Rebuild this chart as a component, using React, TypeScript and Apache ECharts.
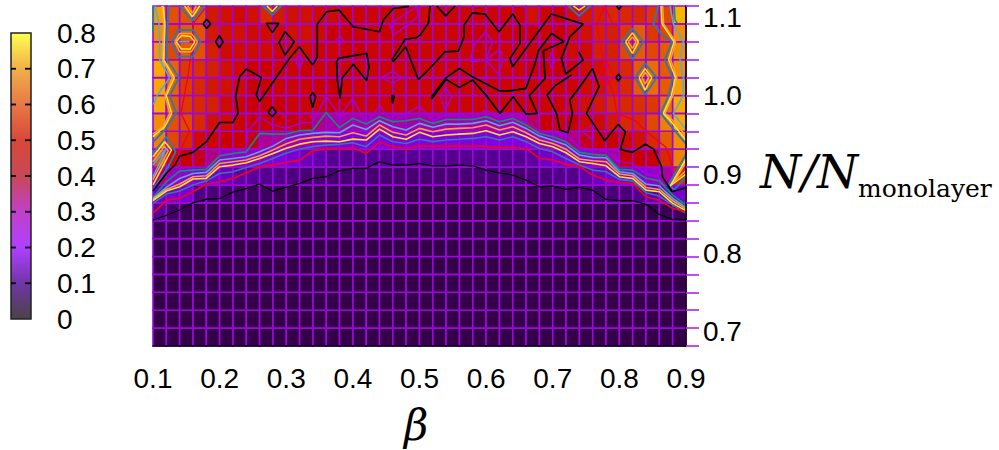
import React, { useEffect, useRef } from "react";
import * as echarts from "echarts";

// ---------- axes ----------
const betaMin = 0.1;
const betaMax = 0.9;
const betaStep = 0.02;
const densityMin = 0.682;
const densityMax = 1.114;
const rowCount = 19;
const densityStep = (densityMax - densityMin) / rowCount;
const densityTicks = [0.7, 0.8, 0.9, 1.0, 1.1];
const barTicks = [0.1, 0.2, 0.3, 0.4, 0.5, 0.6, 0.7];

// ---------- colours ----------
const heatStops: [number, string][] = [
  [0, "#2c0040"], [0.02, "#340048"], [0.06, "#460070"], [0.11, "#550090"], [0.22, "#8000e0"], [0.3, "#9800c8"],
  [0.36, "#a800a8"], [0.4, "#b80060"], [0.44, "#c80004"], [0.47, "#d01000"], [0.5, "#d82800"],
  [0.54, "#e04800"], [0.6, "#f08000"], [0.66, "#f8a800"], [0.8, "#ffff00"],
];
const barStops: [number, string][] = [
  [0, "#4a4444"], [0.1, "#7035a8"], [0.2, "#b040ff"], [0.3, "#c040c8"], [0.4, "#c84858"],
  [0.5, "#d84838"], [0.6, "#e87848"], [0.7, "#f0b048"], [0.8, "#ffff50"],
];

// ---------- cell values, bottom row first, 40 columns each ----------
const row00 = [.02,.02,.02,.02,.02,.02,.02,.02,.02,.02,.02,.02,.02,.02,.02,.02,.02,.02,.02,.02,.02,.02,.02,.02,.02,.02,.02,.02,.02,.02,.02,.02,.02,.02,.02,.02,.02,.02,.02,.02];
const row01 = [.02,.02,.02,.02,.02,.02,.02,.02,.02,.02,.02,.02,.02,.02,.02,.02,.02,.02,.02,.02,.02,.02,.02,.02,.02,.02,.02,.02,.02,.02,.02,.02,.02,.02,.02,.02,.02,.02,.02,.02];
const row02 = [.02,.02,.02,.02,.02,.02,.02,.02,.02,.02,.02,.02,.02,.02,.02,.02,.02,.02,.02,.02,.02,.02,.02,.02,.02,.02,.02,.02,.02,.02,.02,.02,.02,.02,.02,.02,.02,.02,.02,.02];
const row03 = [.02,.02,.02,.02,.02,.02,.02,.02,.02,.02,.02,.02,.02,.02,.02,.02,.02,.02,.02,.02,.02,.02,.02,.02,.02,.02,.02,.02,.02,.02,.02,.02,.02,.02,.02,.02,.02,.02,.02,.02];
const row04 = [.02,.02,.02,.02,.02,.02,.02,.02,.02,.02,.02,.02,.02,.02,.02,.02,.02,.02,.02,.02,.02,.02,.02,.02,.02,.02,.02,.02,.02,.02,.02,.02,.02,.02,.02,.02,.02,.02,.02,.02];
const row05 = [.02,.02,.02,.02,.02,.02,.02,.02,.02,.02,.02,.02,.02,.02,.02,.02,.02,.02,.02,.02,.02,.02,.02,.02,.02,.02,.02,.02,.02,.02,.02,.02,.02,.02,.02,.02,.02,.02,.02,.02];
const row06 = [.03,.02,.02,.02,.02,.02,.02,.02,.02,.02,.02,.02,.02,.02,.02,.02,.02,.02,.02,.02,.02,.02,.02,.02,.02,.02,.02,.02,.02,.02,.02,.02,.02,.02,.02,.02,.02,.02,.02,.02];
const row07 = [.12,.05,.03,.02,.02,.02,.02,.02,.02,.02,.02,.02,.02,.02,.02,.02,.02,.02,.02,.02,.02,.02,.02,.02,.02,.02,.02,.02,.02,.02,.02,.02,.02,.02,.02,.02,.02,.02,.03,.04];
const row08 = [.18,.2,.2,.08,.07,.06,.05,.04,.04,.03,.03,.03,.03,.03,.03,.03,.03,.03,.03,.03,.03,.03,.03,.03,.03,.03,.03,.03,.03,.04,.05,.05,.06,.06,.07,.07,.1,.14,.17,.2];
const row09 = [.38,.3,.28,.22,.2,.17,.13,.12,.11,.1,.08,.06,.06,.06,.06,.06,.06,.06,.06,.06,.06,.06,.06,.06,.06,.06,.06,.06,.07,.08,.1,.1,.14,.17,.2,.22,.25,.3,.36,.5];
const row10 = [.55,.45,.44,.43,.38,.3,.28,.28,.25,.22,.2,.17,.14,.11,.11,.11,.11,.11,.11,.11,.11,.11,.11,.11,.11,.11,.11,.11,.13,.18,.2,.22,.26,.34,.36,.44,.44,.44,.5,.6];
const row11 = [.6,.54,.5,.46,.45,.44,.44,.43,.37,.37,.34,.32,.27,.22,.22,.22,.22,.22,.22,.22,.22,.22,.22,.22,.22,.22,.22,.22,.27,.3,.33,.38,.43,.44,.44,.46,.47,.5,.56,.62];
const row12 = [.62,.55,.54,.5,.47,.46,.45,.44,.44,.44,.44,.43,.38,.36,.36,.36,.36,.36,.36,.36,.36,.36,.36,.36,.36,.36,.36,.36,.4,.44,.45,.44,.46,.46,.48,.5,.5,.54,.6,.66];
const row13 = [.66,.56,.52,.5,.49,.46,.45,.44,.44,.44,.45,.45,.45,.44,.44,.45,.45,.45,.45,.45,.45,.45,.45,.45,.45,.45,.45,.45,.45,.45,.45,.46,.47,.48,.5,.5,.51,.52,.58,.66];
const row14 = [.66,.57,.52,.5,.48,.47,.46,.44,.44,.45,.45,.45,.44,.44,.45,.45,.45,.45,.45,.45,.45,.45,.45,.45,.45,.45,.45,.45,.45,.45,.45,.45,.46,.47,.49,.5,.56,.58,.56,.64];
const row15 = [.66,.57,.52,.51,.49,.47,.46,.44,.44,.45,.45,.44,.45,.45,.45,.45,.45,.44,.45,.44,.45,.45,.45,.45,.44,.45,.45,.45,.44,.44,.44,.45,.46,.47,.49,.5,.56,.58,.56,.62];
const row16 = [.63,.54,.56,.55,.49,.46,.46,.46,.46,.45,.46,.46,.45,.45,.44,.44,.45,.45,.45,.44,.45,.45,.45,.45,.44,.44,.45,.45,.45,.44,.44,.46,.46,.49,.49,.54,.56,.54,.56,.62];
const row17 = [.62,.54,.56,.55,.48,.47,.47,.46,.46,.46,.47,.47,.46,.44,.44,.44,.45,.44,.44,.45,.45,.45,.45,.44,.44,.45,.45,.44,.44,.45,.44,.46,.47,.49,.49,.52,.56,.52,.54,.62];
const row18 = [.65,.55,.55,.55,.48,.47,.46,.47,.5,.48,.47,.47,.46,.46,.45,.45,.45,.45,.45,.45,.46,.45,.45,.45,.45,.45,.45,.45,.47,.45,.44,.47,.48,.49,.5,.5,.5,.52,.54,.68];
const heatRows = [row00,row01,row02,row03,row04,row05,row06,row07,row08,row09,row10,row11,row12,row13,row14,row15,row16,row17,row18];

// ---------- contour levels across the transition: height (in rows) at each of the 41 columns ----------
const bandBlack = [7.04,7.3,7.6,8,8.2,8.25,8.6,8.8,9.05,8.65,8.87,9.09,9.37,9.46,9.8,9.93,9.93,10.3,10.11,10.11,10.2,10.07,10.07,10.11,10.07,9.83,9.68,9.55,9.27,8.9,8.94,8.75,8.86,8.71,8.19,8.12,8.12,7.91,7.35,7.07,7.04];
const bandRed = [7.41,8.15,8.25,8.62,9.05,9.18,9.36,9.68,10.02,10.12,10.25,10.39,10.91,11.0,11.04,11.08,10.76,11.38,11.14,11.04,11.19,11.17,11.17,11.17,11.19,11.14,11.1,11.1,11.04,10.48,10.39,10.15,10.05,9.55,9.27,9.12,9.09,8.34,8.15,7.69,7.5];
const bandBlue = [7.97,8.49,8.66,9.0,9.23,9.64,9.74,9.98,10.2,10.48,10.78,10.99,11.14,11.23,11.27,11.36,11.14,11.79,11.41,11.32,11.55,11.42,11.51,11.55,11.6,11.69,11.51,11.69,11.42,11.04,10.85,10.48,10.11,9.83,9.74,9.31,9.23,8.56,8.38,7.87,7.41];
const bandYellow = [8.12,8.66,8.9,9.33,9.37,10.02,10.11,10.24,10.48,10.76,11.05,11.28,11.41,11.45,11.41,11.56,11.51,12.12,11.69,11.55,11.94,11.69,11.79,11.84,11.88,12.03,11.79,11.97,11.69,11.32,11.13,10.8,10.3,10.2,10.07,9.46,9.36,8.71,8.62,7.97,7.56];
const bandOrange = [8.19,8.75,9.05,9.46,9.51,10.2,10.3,10.39,10.63,10.95,11.3,11.55,11.66,11.73,11.69,11.92,11.73,12.35,11.94,11.79,12.16,11.97,12.12,12.16,12.2,12.35,12.07,12.25,11.92,11.51,11.32,10.99,10.45,10.35,10.3,9.61,9.51,8.86,8.75,8.12,7.65];
const bandCyan = [8.25,8.86,9.36,9.64,9.7,10.39,10.48,10.58,10.85,11.17,11.6,11.79,11.88,11.94,11.92,12.35,12.1,12.59,12.25,12.07,12.44,12.22,12.4,12.4,12.44,12.59,12.31,12.5,12.16,11.73,11.5,11.23,10.67,10.54,10.52,9.74,9.64,9.05,8.94,8.25,7.74];
const bandGreen = [8.3,9.18,9.77,9.83,9.87,10.63,10.76,10.85,11.88,11.84,11.85,12.03,12.07,13.05,12.2,12.72,12.4,12.81,12.53,12.59,12.72,12.44,12.66,12.66,12.66,12.81,12.53,12.72,12.35,11.88,11.69,11.41,10.82,10.71,10.65,9.87,9.83,9.37,9.23,8.43,7.88];

// ---------- contours in the noisy region: [column, row] pairs on the data lattice ----------
type P = [number, number];
const blackMain: P[] = [[0,8.66],[1,9.64],[1.63,10.11],[2,10.61],[3,10.82],[4,11.41],[5,12.49],[6,12.49],[6.38,13],[6.3,13.56],[6.2,13.93],[6.5,15.05],[7,15.48],[8.13,15],[7.75,14.03],[8,13.66],[10.25,16.08],[10.98,16.72],[11.98,15.7],[12.33,16.16],[12.33,17.99],[13.03,18.68],[13.96,18.77],[15.03,17.84],[17,17.56],[17.28,18.21],[18.03,18.86],[19.11,18.96],[19.2,19]];
const blackLeftLoop: P[] = [[9.91,17.56],[10.61,17],[9.91,16.26],[9.45,16.95],[9.91,17.56]];
const blackDot1: P[] = [[3.75,18],[4.03,18.26],[4.33,18],[4.03,17.75],[3.75,18]];
const blackDot2: P[] = [[4.7,17],[4.98,17.34],[5.25,17],[4.98,16.67],[4.7,17]];
const blackDot3: P[] = [[8.5,18.03],[9.45,18.03],[8.95,17.51],[8.5,18.03]];
const blackDot4: P[] = [[8.63,13.06],[8.95,13.37],[9.25,13.06],[8.95,12.82],[8.63,13.06]];
const blackMidLoop: P[] = [[13.91,16.07],[13.78,15.88],[13.84,14.86],[14.04,13.84],[14.21,14.99],[15.04,15.75],[16.04,14.82],[16.21,15.6],[16.04,16.35],[13.91,16.07]];
const blackDot5: P[] = [[11.78,13.93],[11.98,14.17],[12.2,13.93],[11.98,13.33],[11.78,13.93]];
const blackDot6: P[] = [[17.91,13.93],[17.98,14.02],[18.11,13.93],[17.98,13.56],[17.91,13.93]];
const blackCenter: P[] = [[20.79,19],[20.67,18.03],[20.04,17.37],[19.79,17.24],[18.91,17.13],[17.96,16.02],[18.04,15.88],[18.96,16.72],[19.91,14.9],[20.41,15.23],[21.91,16.44],[22.91,16.48],[23.34,17.28],[23.34,17.93],[23.97,18.62],[24.92,18.55],[25.97,17.56],[26.99,18.55],[27.54,17.93],[27.54,16.91],[26.79,16.07],[26.99,15.6],[29.9,18.55],[32.28,17.99],[31.28,17.28],[30.65,16.07],[30.98,15.2],[32.28,15.98],[31.95,16.44]];
const blackCenterLoop: P[] = [[20.91,13.93],[22,15],[23,15.51],[23.97,15.05],[25.99,14.26],[26.79,14.26],[27.99,14.4],[28.67,15.79],[28.95,16.54],[29.92,17.47],[30.83,17],[29.3,16.5],[29.42,14.95],[28.24,13.99],[28.84,13],[27.99,12.96],[27.04,13.93],[26.04,13],[24.99,14.02],[23.99,14.86],[22.99,14.45],[22,14.9],[20.91,13.8],[20.91,13.93]];
const blackRight: P[] = [[31.4,15.14],[30.15,14.53],[29.58,14.02],[30.28,13],[30.53,12.07],[31.15,11.92],[31.48,13],[31.28,13.74],[32.4,14.86],[32.98,15.51],[33.48,14.49],[32.53,13],[33.9,11.47],[34.9,12.38],[35.46,11.97],[35.08,10.99],[35.96,10.82],[36.96,11.27],[37.58,10.99],[38.16,10.02],[38.23,9.46],[38.96,8.62],[40,8.85]];
const blackDot7: P[] = [[34.75,15],[34.93,15.2],[35.1,15],[34.93,14.8],[34.75,15]];
const blackTop1: P[] = [[34.8,19],[34.97,18.8],[35.15,19]];
const blackTop2: P[] = [[21.29,19],[21.97,18.45],[22.67,19]];

const redLeft: P[] = [[3.9,18.87],[3,18],[3,17],[2.6,15],[2.1,13],[2.75,12],[2,10.85],[1.5,10],[0,8.7]];
const redRight: P[] = [[33.9,19],[33.3,18],[34.05,15],[34.6,14],[34.8,13],[36.2,12.6],[37,12],[38.5,11.1],[39,10]];
const redDiamond: P[] = [[33.4,15],[34,16],[34.6,15],[34,14.6],[33.4,15]];
const redPeak: P[] = [[33.3,18],[33.9,19],[34.5,18]];

const purpleMain: P[] = [[4,10.02],[5,10.6],[6,10.75],[7,11.04],[7.1,12],[8,12.8],[9,12.34],[10,12.16],[11,12.44],[12,12.53],[13,13.98],[14,12.81],[15,13.84],[16,12.4],[17,13.4],[18,12.5],[19,13],[20,13.4],[21,12.6],[22,12.9],[23,12.9],[24,12.7],[25,13.2],[26,12.7],[27,12.9],[28,12.5],[29,12],[30,11.95],[31,11.8],[32,11.1],[33,11],[34,10.9],[35,10.3],[36,10.2],[37,9.6],[38,9.5]];
const purpleBlob: P[] = [[24.97,17.56],[25.49,17],[24.97,15.98],[26.04,16.57],[26.29,15.98],[25.92,15.2],[24.97,15.98],[23.92,15.88],[23.79,15.98],[24.17,16.91],[24.97,17.56]];
const purpleLoop1: P[] = [[21.92,14.4],[22.47,13.99],[21.92,13.18],[21.54,13.99],[21.92,14.4]];
const purpleLoop2: P[] = [[10.98,16.26],[11.29,15.98],[10.98,15.51],[10.66,15.98],[10.98,16.26]];
const purpleLoop3: P[] = [[17.16,15],[17.96,15.33],[18.71,15],[17.96,14.67],[17.16,15]];
const purpleLoop4: P[] = [[13.79,17.1],[14.03,17.32],[14.29,17.06],[14.03,16.91],[13.79,17.1]];
const purpleLoop5: P[] = [[17.79,17.99],[19.79,18.96],[19.91,18.4],[18.03,17.37],[17.79,17.99]];
const purpleLoop6: P[] = [[29.7,16],[29.92,16.4],[30.15,16],[29.92,15.55],[29.7,16]];
const purpleLoop7: P[] = [[32.18,12],[33.05,12.34],[33.05,11.5],[32.18,12]];

const yellowLeft: P[] = [[.75,19],[.9,18],[.85,17],[.8,16],[1.6,15],[1,14],[1.4,13],[.88,12.25],[0,11.7]];
const orangeLeft: P[] = [[.65,19],[.8,18],[.75,17],[.7,16],[1.45,15],[.9,14],[1.25,13],[.75,12.25],[0,11.85]];
const blueLeft: P[] = [[1.2,19],[1.1,18],[1.05,17],[1.05,16],[1.95,15],[1.25,14],[1.75,13.03],[1,12.16],[0,11.4]];
const cyanLeft: P[] = [[.15,19],[.45,18],[.5,17],[.5,16],[1.25,15],[.3,14],[.1,13.6],[0,13.5]];
const greenLeft: P[] = [[.03,19],[.03,18],[0,17.5]];
const blueIslandLeft: P[] = [[0,10.76],[1,11.69],[1.7,10.85],[1.13,10.02],[0,8.71]];
const yellowIslandLeft: P[] = [[0,10.58],[.88,11.41],[1.38,10.95],[0,9]];
const orangeIslandLeft: P[] = [[0,10.3],[.85,11.15],[1.15,10.9],[0,9.3]];
const cyanIslandLeft: P[] = [[0,10.11],[1,11.04],[0,9.46]];

const yellowRight: P[] = [[38.13,19],[38.2,18],[39.1,17],[38.7,16],[39.2,15],[38.9,14],[38.3,13],[38.8,12.62],[40,11.5]];
const orangeRight: P[] = [[38.25,19],[38.32,18],[39.22,17],[38.85,16],[39.32,15],[39.02,14],[38.42,13],[38.98,12.62],[40,11.75]];
const blueRight: P[] = [[37.93,19],[37.55,18],[38.18,17.4],[38.95,17],[38.4,16],[39,15],[38.7,14],[38.1,13],[38.8,12.34],[40,11.3]];
const cyanRight: P[] = [[38.8,19],[39.05,18],[39.8,17],[39.55,16],[39.8,15],[39.8,14],[39.05,13],[39.93,12.16],[40,12.1]];
const greenRight: P[] = [[39.12,19],[39.18,18.2],[39.4,18]];
const blueIslandRight: P[] = [[40,10.7],[38.68,9],[39.13,8.75],[40,9.45]];
const yellowIslandRight: P[] = [[40,10.45],[38.8,8.94],[40,9.6]];
const orangeIslandRight: P[] = [[40,10.25],[39.05,9.15],[40,9.8]];

const hexBlue: P[] = [[1.38,17],[1.88,17.66],[3,17.66],[3.55,17],[3,16.17],[1.88,16.17],[1.38,17]];
const hexOrange: P[] = [[1.63,17],[2,17.47],[2.88,17.47],[3.33,17],[2.88,16.45],[2,16.45],[1.63,17]];
const hexYellow: P[] = [[1.75,17],[2.13,17.35],[2.8,17.3],[3.13,17],[2.8,16.6],[2.13,16.6],[1.75,17]];
const hexCyan: P[] = [[1.95,17],[2.75,17]];
const diamondABlue: P[] = [[35.18,17],[35.98,17.75],[36.8,17],[35.98,16.02],[35.18,17]];
const diamondAYellow: P[] = [[35.47,17],[35.98,17.5],[36.43,17],[35.98,16.35],[35.47,17]];
const diamondAOrange: P[] = [[35.67,17],[35.98,17.27],[36.25,17],[35.98,16.63],[35.67,17]];
const diamondBBlue: P[] = [[36.18,15],[36.93,15.8],[37.8,15],[36.93,14.05],[36.18,15]];
const diamondBYellow: P[] = [[36.48,15],[36.93,15.5],[37.43,15],[36.93,14.3],[36.48,15]];
const diamondBOrange: P[] = [[36.7,15],[36.93,15.3],[37.2,15],[36.93,14.65],[36.7,15]];
const topABlue: P[] = [[2,19],[2.95,18.18],[3.88,19]];
const topAYellow: P[] = [[2.38,19],[2.95,18.4],[3.5,19]];
const topAOrange: P[] = [[2.6,19],[2.95,18.6],[3.25,19]];
const topBBlue: P[] = [[8.25,19],[8.95,18.5],[9.63,19]];
const topBYellow: P[] = [[8.55,19],[8.95,18.7],[9.33,19]];
const topCBlue: P[] = [[31.18,19],[31.98,18.45],[32.8,19]];
const topCYellow: P[] = [[31.55,19],[31.98,18.77],[32.43,19]];

const BLACK = "#000000", RED = "#f4001c", BLUE = "#3078b0", YELLOW = "#ffe428", ORANGE = "#f4a040", CYAN = "#58a8dc", GREEN = "#109070", PURPLE = "#a400e4";
const FONT = "'Liberation Sans', Helvetica, Arial, sans-serif";
const LABEL_SIZE = 28;

const hexToRgb = (h: string) => [1, 3, 5].map((k) => parseInt(h.slice(k, k + 2), 16));
function heatColor(v: number) {
  for (let k = 1; k < heatStops.length; k++) {
    if (v <= heatStops[k][0]) {
      const [a, ca] = heatStops[k - 1];
      const [b, cb] = heatStops[k];
      const t = (v - a) / (b - a);
      const A = hexToRgb(ca), B = hexToRgb(cb);
      return `rgb(${A.map((x, n) => Math.round(x + (B[n] - x) * t)).join(",")})`;
    }
  }
  return heatStops[heatStops.length - 1][1];
}

const toData = ([i, j]: P) => [betaMin + betaStep * i, densityMin + densityStep * j];
const bandPoints = (b: number[]): P[] => b.map((j, i) => [i, j] as P);

const contour = (pts: P[], color: string, width = 1.5) => ({
  type: "line" as const,
  xAxisIndex: 0,
  yAxisIndex: 0,
  data: pts.map(toData),
  showSymbol: false,
  smooth: false,
  silent: true,
  clip: true,
  z: 10,
  lineStyle: { color, width },
});

const App = () => {
  const ref = useRef<HTMLDivElement>(null);
  useEffect(() => {
    const chart = echarts.init(ref.current!, undefined, { renderer: "svg" });
    const cells: number[][] = [];
    heatRows.forEach((row, j) =>
      row.forEach((v, i) =>
        cells.push([
          betaMin + betaStep * i,
          densityMin + densityStep * j,
          betaMin + betaStep * (i + 1),
          densityMin + densityStep * (j + 1),
          v,
        ])
      )
    );
    const rowEdges = Array.from({ length: rowCount + 1 }, (_, j) => densityMin + densityStep * j);
    const barTickMarks: number[][] = [];
    barTicks.forEach((t) => {
      barTickMarks.push([0, t, 5]);
      barTickMarks.push([1, t, -6]);
    });

    const purple = [purpleMain, purpleBlob, purpleLoop1, purpleLoop2, purpleLoop3, purpleLoop4, purpleLoop5, purpleLoop6, purpleLoop7];
    const red = [redLeft, redRight, redDiamond, redPeak];
    const blue = [blueLeft, blueIslandLeft, blueRight, blueIslandRight, hexBlue, diamondABlue, diamondBBlue, topABlue, topBBlue, topCBlue];
    const orange = [orangeLeft, orangeIslandLeft, orangeRight, orangeIslandRight, hexOrange, diamondAOrange, diamondBOrange, topAOrange];
    const yellow = [yellowLeft, yellowIslandLeft, yellowRight, yellowIslandRight, hexYellow, diamondAYellow, diamondBYellow, topAYellow, topBYellow, topCYellow];
    const cyan = [cyanLeft, cyanIslandLeft, cyanRight, hexCyan];
    const green = [greenLeft, greenRight];
    const black = [blackMain, blackLeftLoop, blackDot1, blackDot2, blackDot3, blackDot4, blackMidLoop, blackDot5, blackDot6, blackCenter, blackCenterLoop, blackRight, blackDot7, blackTop1, blackTop2];

    chart.setOption({
      animation: false,
      backgroundColor: "#ffffff",
      grid: [
        { left: 153, top: 6, width: 533, height: 340 },
        { left: 11, top: 33, width: 20, height: 286 },
      ],
      xAxis: [
        {
          type: "value", gridIndex: 0, min: betaMin, max: betaMax, interval: 0.1, z: 12,
          axisLine: { show: true, onZero: false, lineStyle: { color: "#000", width: 1.5 } },
          axisTick: { show: false },
          splitLine: { show: false },
          axisLabel: { color: "#000", fontFamily: FONT, fontSize: LABEL_SIZE, margin: 18 },
        },
        { type: "value", gridIndex: 1, min: 0, max: 1, show: false, splitLine: { show: false } },
      ],
      yAxis: [
        {
          type: "value", gridIndex: 0, position: "right", min: densityMin, max: densityMax, z: 12,
          axisLine: { show: true, onZero: false, lineStyle: { color: "#000", width: 1.5 } },
          axisTick: { show: true, length: 13, customValues: rowEdges, lineStyle: { color: "#b030f0", width: 1.7 } },
          splitLine: { show: false },
          axisLabel: {
            color: "#000", fontFamily: FONT, fontSize: LABEL_SIZE, margin: 17,
            customValues: densityTicks, showMinLabel: true, showMaxLabel: true,
            formatter: (v: number) => v.toFixed(1),
          },
        },
        {
          type: "value", gridIndex: 1, position: "right", min: 0, max: 0.8, interval: 0.1, z: 12,
          axisLine: { show: false },
          axisTick: { show: false },
          splitLine: { show: false },
          axisLabel: {
            color: "#000", fontFamily: FONT, fontSize: LABEL_SIZE, margin: 26,
            formatter: (v: number) => (v === 0 ? "0" : v.toFixed(1)),
          },
        },
      ],
      series: [
        {
          type: "custom",
          xAxisIndex: 0,
          yAxisIndex: 0,
          data: cells,
          encode: { x: [0, 2], y: [1, 3] },
          silent: true,
          z: 2,
          renderItem: (_: any, api: any) => {
            const a = api.coord([api.value(0), api.value(1)]);
            const b = api.coord([api.value(2), api.value(3)]);
            return {
              type: "rect",
              shape: { x: a[0], y: b[1], width: b[0] - a[0], height: a[1] - b[1] },
              style: { fill: heatColor(api.value(4)), stroke: "#9a08dc", lineWidth: 1.6 },
            };
          },
        },
        {
          type: "custom",
          xAxisIndex: 1,
          yAxisIndex: 1,
          data: [[0, 0, 1, 0.8]],
          encode: { x: [0, 2], y: [1, 3] },
          silent: true,
          z: 1,
          renderItem: (_: any, api: any) => {
            const a = api.coord([api.value(0), api.value(1)]);
            const b = api.coord([api.value(2), api.value(3)]);
            return {
              type: "rect",
              shape: { x: a[0], y: b[1], width: b[0] - a[0], height: a[1] - b[1] },
              style: {
                fill: new echarts.graphic.LinearGradient(0, 1, 0, 0, barStops.map(([v, color]) => ({ offset: v / 0.8, color }))),
                stroke: "#222",
                lineWidth: 1.5,
              },
            };
          },
        },
        {
          type: "custom",
          xAxisIndex: 1,
          yAxisIndex: 1,
          data: barTickMarks,
          encode: { x: 0, y: 1 },
          silent: true,
          clip: false,
          z: 6,
          renderItem: (_: any, api: any) => {
            const p = api.coord([api.value(0), api.value(1)]);
            const len = api.value(2);
            return {
              type: "rect",
              shape: { x: len > 0 ? p[0] : p[0] + len, y: p[1] - 0.9, width: Math.abs(len), height: 1.8 },
              style: { fill: "#000000" },
            };
          },
        },
        ...purple.map((p) => contour(p, PURPLE, 1.3)),
        ...red.map((p) => contour(p, RED, 1.3)),
        ...blue.map((p) => contour(p, BLUE, 1.8)),
        ...orange.map((p) => contour(p, ORANGE, 1.5)),
        ...yellow.map((p) => contour(p, YELLOW, 1.5)),
        ...cyan.map((p) => contour(p, CYAN, 1.5)),
        ...green.map((p) => contour(p, GREEN, 1.5)),
        ...black.map((p) => contour(p, BLACK, 1.7)),
        contour(bandPoints(bandGreen), GREEN, 1.6),
        contour(bandPoints(bandCyan), CYAN, 1.6),
        contour(bandPoints(bandOrange), ORANGE, 1.6),
        contour(bandPoints(bandYellow), YELLOW, 1.6),
        contour(bandPoints(bandBlue), BLUE, 1.6),
        contour(bandPoints(bandRed), RED, 1.6),
        contour(bandPoints(bandBlack), BLACK, 1.3),
      ],
      graphic: [
        {
          type: "text", left: 760, top: 148,
          style: {
            text: "{a|N/N}{b|monolayer}",
            rich: {
              a: { fontFamily: "'DejaVu Serif'", fontStyle: "italic", fontSize: 47, fill: "#000", padding: [0, 0, 6, 0] },
              b: { fontFamily: "'DejaVu Serif'", fontSize: 25, fill: "#000", verticalAlign: "bottom" },
            },
          },
        },
        {
          type: "text", left: 404, top: 404,
          style: { text: "β", fontFamily: "'DejaVu Serif'", fontStyle: "italic", fontSize: 42, fill: "#000" },
        },
      ],
    });
    return () => chart.dispose();
  }, []);
  return <div ref={ref} style={{ position: "fixed", left: 0, top: 0, width: 999, height: 450 }} />;
};

export default App;
